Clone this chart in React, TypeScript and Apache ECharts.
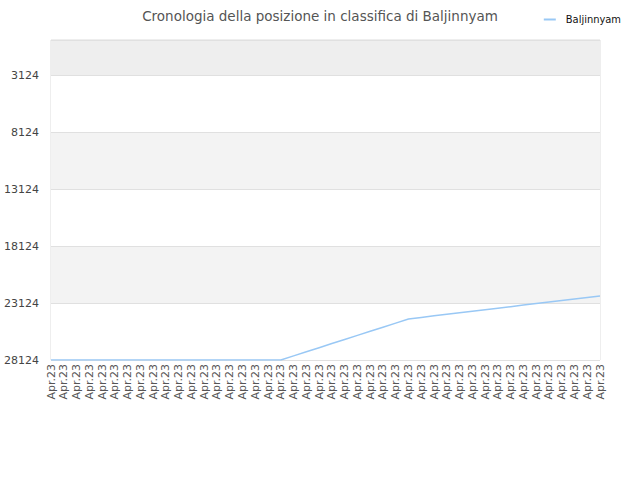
import { useEffect, useRef } from "react";
import * as echarts from "echarts";

const TITLE = "Cronologia della posizione in classifica di Baljinnyam";
const SERIES_NAME = "Baljinnyam";

// 44 daily points, all labelled "Apr.23"
const DATES = Array(44).fill("Apr.23");

// rank per point (lower = better)
const RANKS = [
  28124, 28124, 28124, 28124, 28124, 28124, 28124, 28124, 28124, 28124,
  28124, 28124, 28124, 28124, 28124, 28124, 28124, 28124, 28124, 27760,
  27400, 27040, 26680, 26320, 25960, 25600, 25240, 24880, 24516, 24380,
  24245, 24110, 23975, 23840, 23705, 23570, 23435, 23300, 23165, 23030,
  22895, 22760, 22625, 22492,
];

const Y_LABELS = [3124, 8124, 13124, 18124, 23124, 28124];
// the top of the axis (0) is a tick too, so that its band gets filled
const Y_TICKS = [0, ...Y_LABELS];

export default function App() {
  const chartRef = useRef<HTMLDivElement>(null);

  useEffect(() => {
    document.body.style.margin = "0";
    if (!chartRef.current) return;
    const chart = echarts.init(chartRef.current, null, { renderer: "svg" });

    chart.setOption({
      animation: false,
      title: {
        text: TITLE,
        left: "center",
        top: 4,
        textStyle: { fontFamily: "DejaVu Sans", fontSize: 13.5, fontWeight: "normal", color: "#555" },
      },
      legend: {
        data: [SERIES_NAME],
        right: 14,
        top: 9,
        itemWidth: 12,
        itemHeight: 2,
        icon: "rect",
        itemGap: 6,
        textStyle: { fontFamily: "DejaVu Sans Condensed", fontSize: 11, color: "#111", padding: [0, 0, 0, 5] },
      },
      grid: {
        left: 51,
        right: 40,
        top: 40,
        bottom: 120,
        show: true,
        borderColor: "#dddddd",
        borderWidth: 1,
        backgroundColor: "transparent",
      },
      xAxis: {
        type: "category",
        data: DATES,
        boundaryGap: false,
        axisLine: { show: false },
        axisTick: { show: false },
        axisLabel: {
          rotate: 90,
          interval: 0,
          margin: 4,
          fontFamily: "DejaVu Sans",
          fontSize: 11,
          color: "#555",
        },
        splitLine: { show: false },
      },
      yAxis: {
        type: "value",
        inverse: true,
        min: 0,
        max: 28124,
        axisLine: { show: false },
        axisTick: { show: false, customValues: Y_TICKS },
        axisLabel: {
          customValues: Y_LABELS,
          formatter: (v: number) => String(v),
          margin: 12,
          fontFamily: "DejaVu Sans",
          fontSize: 11,
          color: "#444",
        },
        splitLine: { show: true, lineStyle: { color: "#e0e0e0", width: 1 } },
        splitArea: {
          show: true,
          areaStyle: { color: ["#eeeeee", "#ffffff", "#f3f3f3", "#ffffff", "#f3f3f3", "#ffffff"] },
        },
      },
      series: [
        {
          name: SERIES_NAME,
          type: "line",
          data: RANKS,
          showSymbol: false,
          symbol: "none",
          lineStyle: { color: "#99c8f5", width: 1.5 },
          itemStyle: { color: "#99c8f5" },
        },
      ],
    });

    return () => chart.dispose();
  }, []);

  return <div ref={chartRef} style={{ width: "640px", height: "480px" }} />;
}
